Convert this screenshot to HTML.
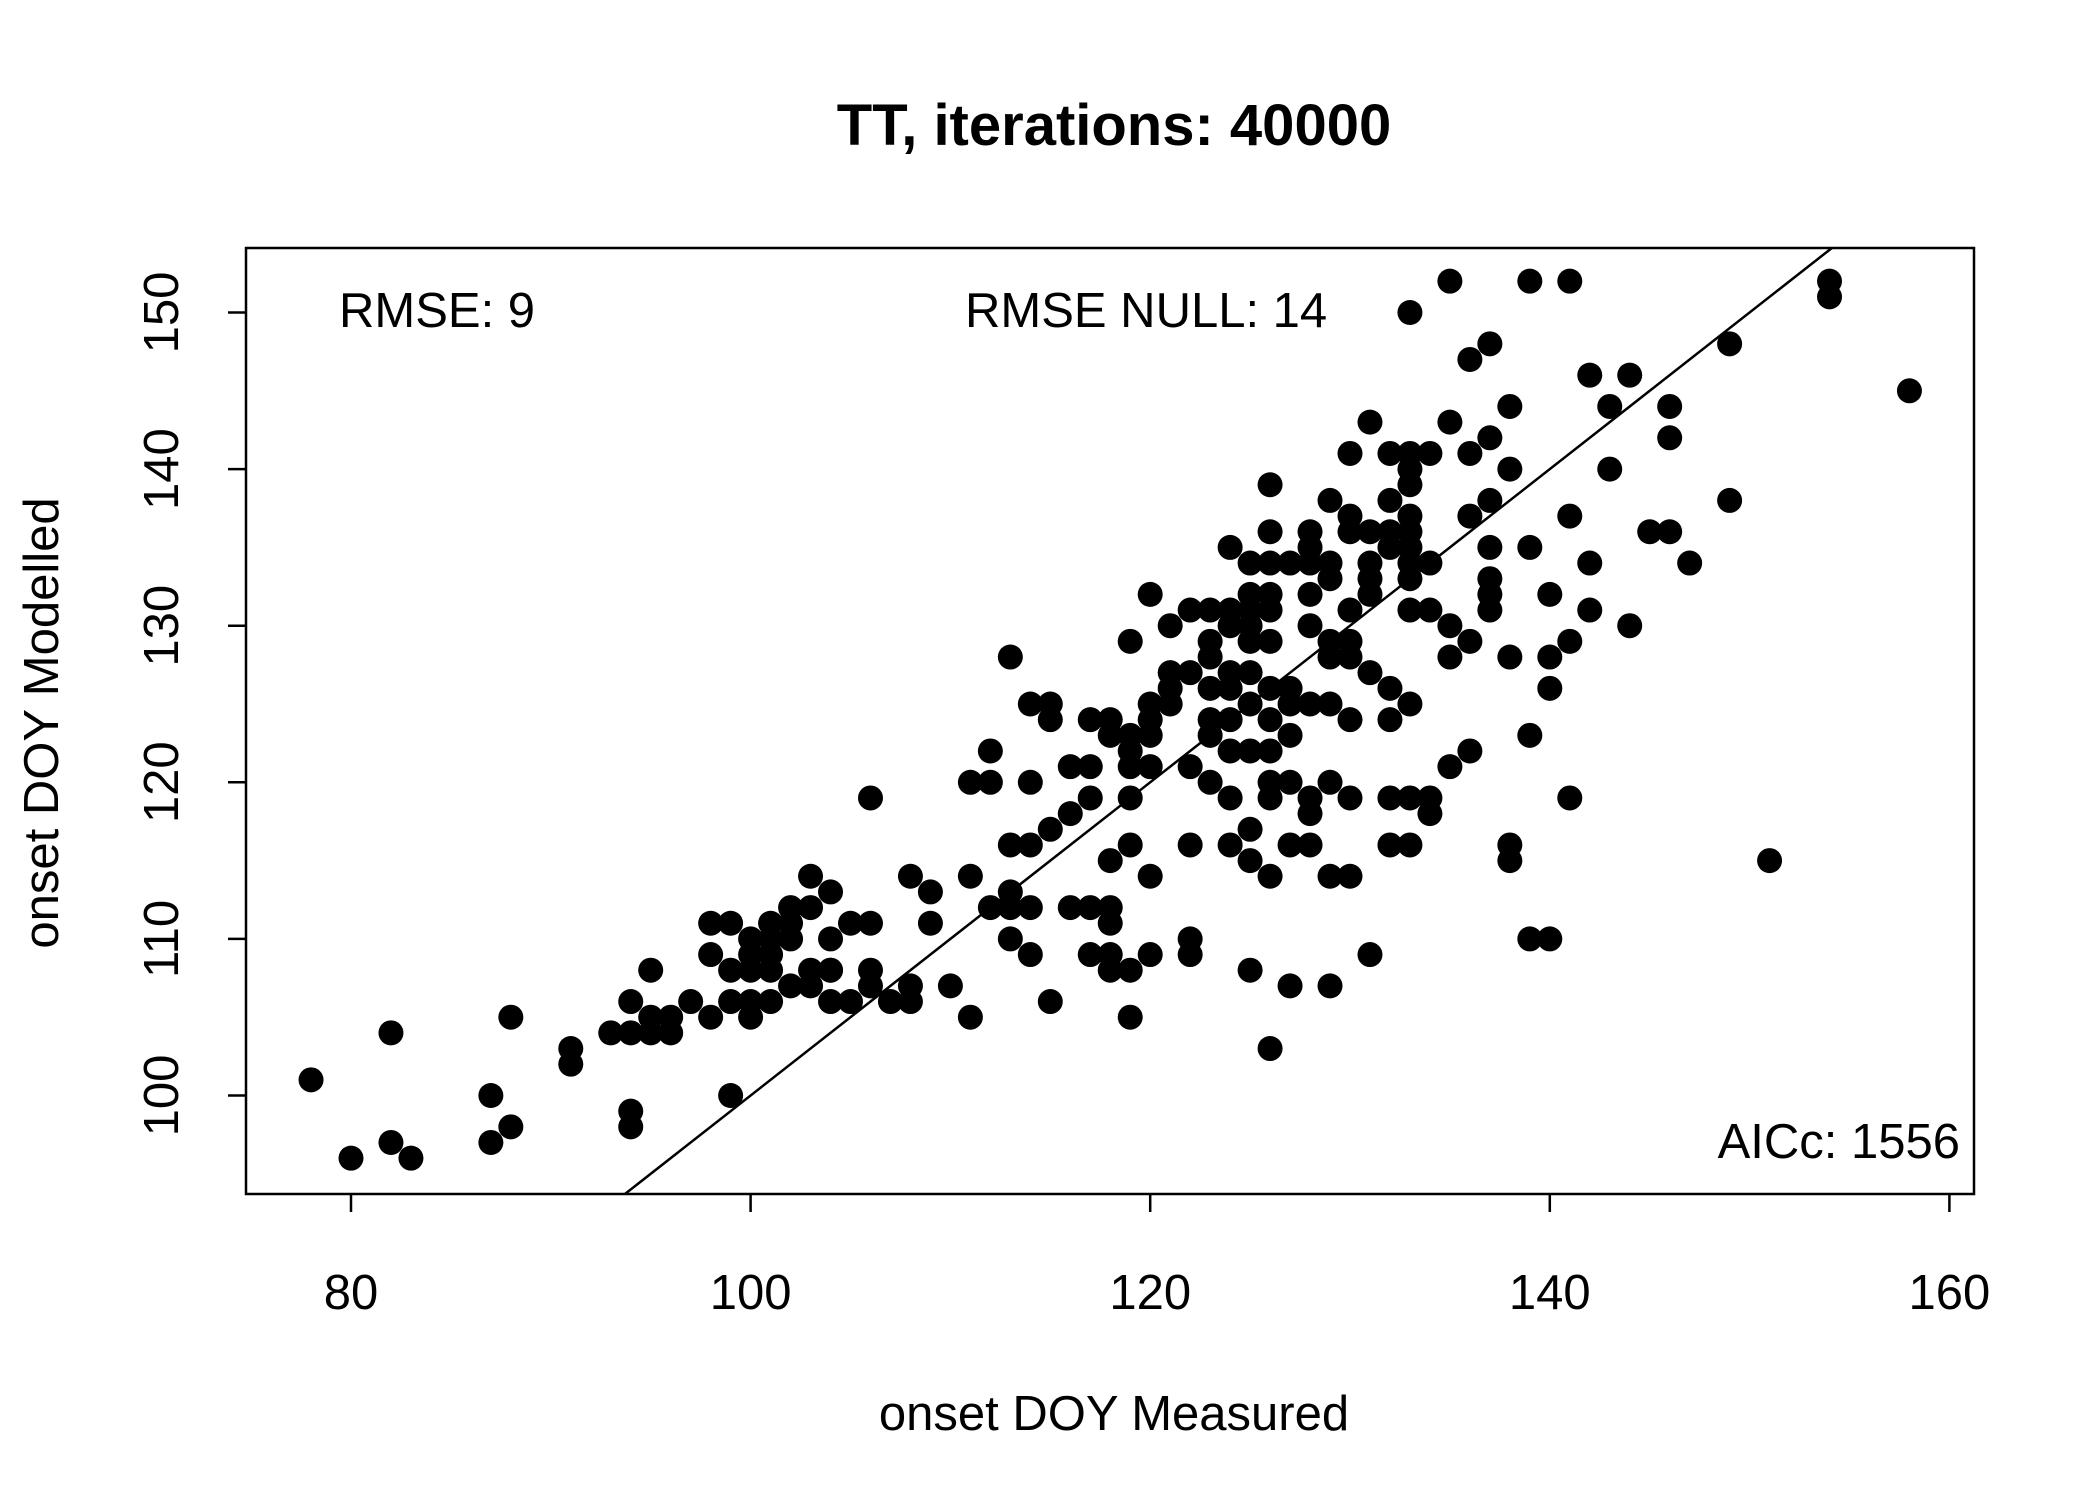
<!DOCTYPE html>
<html><head><meta charset="utf-8"><style>
html,body{margin:0;padding:0;background:#fff;}
svg{display:block;font-family:"Liberation Sans",sans-serif;}
</style></head><body>
<svg id="chart" width="2100" height="1500" viewBox="0 0 2100 1500" xmlns="http://www.w3.org/2000/svg">
<rect width="2100" height="1500" fill="#fff"/>
<text x="1114" y="145" text-anchor="middle" font-size="58" font-weight="bold">TT, iterations: 40000</text>
<text x="1114" y="1430" text-anchor="middle" font-size="49">onset DOY Measured</text>
<text transform="translate(58,723) rotate(-90)" text-anchor="middle" font-size="49">onset DOY Modelled</text>
<text x="339" y="327" font-size="49">RMSE: 9</text>
<text x="965" y="327" font-size="49">RMSE NULL: 14</text>
<text x="1960" y="1158" text-anchor="end" font-size="49">AICc: 1556</text>
<g id="marks"></g>
<g id="axes"></g>
<rect x="246" y="248" width="1728" height="946" fill="none" stroke="#000" stroke-width="2.5"/>
</svg>
<script>
const xTicks=[80,100,120,140,160];
const yTicks=[100,110,120,130,140,150];
const measured=[78,80,82,82,83,87,87,88,88,91,91,93,94,94,94,94,95,95,95,96,96,97,98,98,98,99,99,99,99,100,100,100,100,100,101,101,101,101,101,102,102,102,102,103,103,103,103,104,104,104,104,104,105,105,106,106,106,106,107,108,108,108,109,109,110,111,111,111,112,112,112,113,113,113,113,113,114,114,114,114,114,115,115,115,115,116,116,116,117,117,117,117,117,118,118,118,118,118,118,118,119,119,119,119,119,119,119,119,120,120,120,120,120,120,120,121,121,121,121,122,122,122,122,122,122,123,123,123,123,123,123,123,124,124,124,124,124,124,124,124,124,125,125,125,125,125,125,125,125,125,125,125,126,126,126,126,126,126,126,126,126,126,126,126,126,127,127,127,127,127,127,127,128,128,128,128,128,128,128,128,128,129,129,129,129,129,129,129,129,129,130,130,130,130,130,130,130,130,130,131,131,131,131,131,131,131,132,132,132,132,132,132,132,132,133,133,133,133,133,133,133,133,133,133,133,133,133,134,134,134,134,134,135,135,135,135,135,136,136,136,136,136,137,137,137,137,137,137,137,138,138,138,138,138,139,139,139,139,140,140,140,140,141,141,141,141,142,142,142,143,143,144,144,145,146,146,146,147,149,149,151,154,154,158];
const modelled=[101,96,104,97,96,100,97,105,98,103,102,104,106,104,99,98,108,104,105,105,104,106,105,111,109,111,108,106,100,105,109,110,108,106,111,110,109,108,106,111,112,107,110,114,112,108,107,113,110,108,106,108,111,106,119,111,108,107,106,114,107,106,113,111,107,120,114,105,122,120,112,128,116,113,110,112,125,120,116,112,109,125,124,117,106,121,118,112,124,121,119,112,109,124,123,115,112,111,109,108,129,123,121,119,116,108,105,122,132,125,124,123,121,114,109,130,127,126,125,131,127,121,116,110,109,131,129,128,126,124,123,120,135,131,130,127,126,124,122,119,116,134,132,131,130,129,127,125,122,117,115,108,139,136,134,132,131,129,126,124,120,119,114,103,122,134,126,125,123,120,116,107,136,135,134,132,130,125,119,118,116,138,134,133,129,128,125,120,114,107,141,137,136,131,129,128,124,119,114,143,136,134,133,132,127,109,141,138,136,135,126,124,119,116,150,141,140,139,137,136,135,134,133,131,125,119,116,141,134,131,119,118,152,143,130,128,121,147,141,137,129,122,148,142,138,135,133,132,131,144,140,128,116,115,152,135,123,110,132,128,126,110,152,137,129,119,146,134,131,144,140,146,130,136,144,142,136,134,148,138,115,152,151,145];
const X0=351,XS=19.98,Y0=1095.5,YS=15.66;
const BOX_L=246,BOX_R=1974,BOX_T=248,BOX_B=1194;
function sx(v){return X0+(v-80)*XS;}
function sy(v){return Y0-(v-100)*YS;}
function ix(p){return 80+(p-X0)/XS;}
function iy(p){return 100+(Y0-p)/YS;}
const NS="http://www.w3.org/2000/svg";
const marks=document.getElementById('marks');
const axes=document.getElementById('axes');
const lo=Math.max(ix(BOX_L),iy(BOX_B)),hi=Math.min(ix(BOX_R),iy(BOX_T));
const ln=document.createElementNS(NS,'line');


ln.setAttribute('x1',sx(lo));ln.setAttribute('y1',sy(lo));
ln.setAttribute('x2',sx(hi));ln.setAttribute('y2',sy(hi));
ln.setAttribute('stroke','#000');ln.setAttribute('stroke-width','2.5');
marks.appendChild(ln);
for(let i=0;i<measured.length;i++){
  const c=document.createElementNS(NS,'circle');
  
  
  c.setAttribute('cx',sx(measured[i]));c.setAttribute('cy',sy(modelled[i]));
  c.setAttribute('r',12.5);c.setAttribute('fill','#000');
  marks.appendChild(c);
}
xTicks.forEach(t=>{
  const l=document.createElementNS(NS,'line');
  
  
  l.setAttribute('x1',sx(t));l.setAttribute('x2',sx(t));
  l.setAttribute('y1',BOX_B);l.setAttribute('y2',BOX_B+18);
  l.setAttribute('stroke','#000');l.setAttribute('stroke-width','2.5');
  axes.appendChild(l);
  const tx=document.createElementNS(NS,'text');
  
  
  tx.setAttribute('x',sx(t));tx.setAttribute('y',1309);
  tx.setAttribute('text-anchor','middle');tx.setAttribute('font-size','49');
  tx.textContent=t;axes.appendChild(tx);
});
yTicks.forEach(t=>{
  const l=document.createElementNS(NS,'line');
  
  
  l.setAttribute('x1',BOX_L-18);l.setAttribute('x2',BOX_L);
  l.setAttribute('y1',sy(t));l.setAttribute('y2',sy(t));
  l.setAttribute('stroke','#000');l.setAttribute('stroke-width','2.5');
  axes.appendChild(l);
  const tx=document.createElementNS(NS,'text');
  
  
  tx.setAttribute('transform','translate(178,'+sy(t)+') rotate(-90)');
  tx.setAttribute('text-anchor','middle');tx.setAttribute('font-size','49');
  tx.textContent=t;axes.appendChild(tx);
});
</script>
</body></html>
